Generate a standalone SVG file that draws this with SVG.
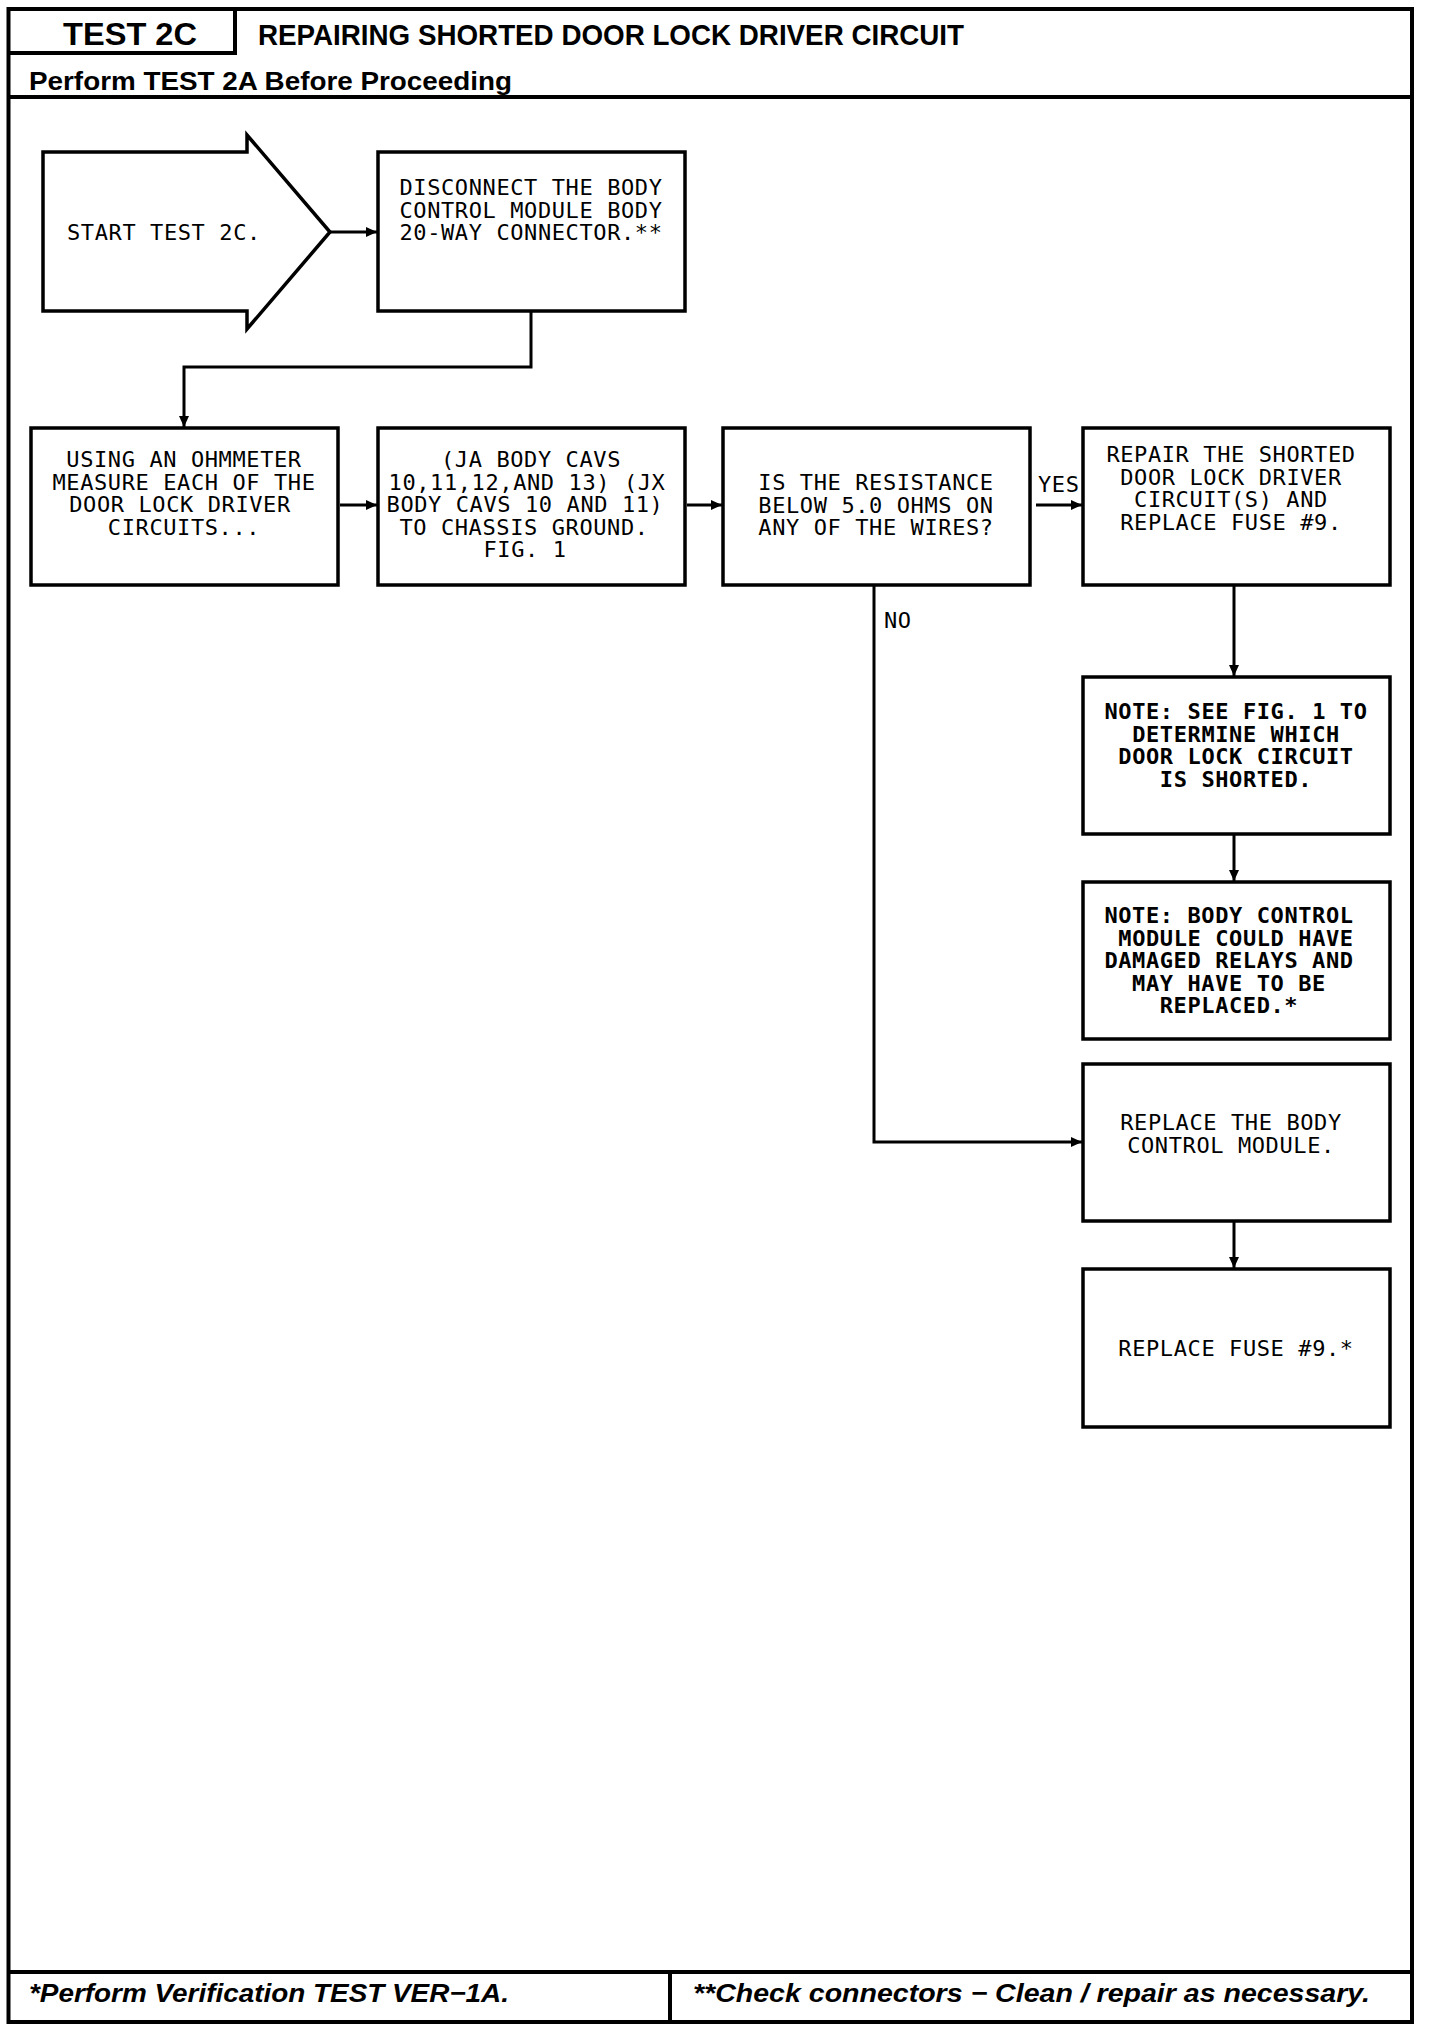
<svg xmlns="http://www.w3.org/2000/svg" width="1440" height="2032" viewBox="0 0 1440 2032">
<style>
.frame{fill:none;stroke:#000;stroke-width:4}
.box{fill:#fff;stroke:#000;stroke-width:3.5}
.con{fill:none;stroke:#000;stroke-width:3}
.t{font-family:"DejaVu Sans Mono","Liberation Mono",monospace;font-size:22px;letter-spacing:0.6px;fill:#000;text-anchor:middle}
.tl{font-family:"DejaVu Sans Mono","Liberation Mono",monospace;font-size:22px;letter-spacing:0.6px;fill:#000}
.b{font-weight:bold}
.h{font-family:"Liberation Sans",Arial,sans-serif;font-weight:bold;fill:#000}
.hi{font-family:"Liberation Sans",Arial,sans-serif;font-weight:bold;font-style:italic;fill:#000}
</style>
<defs>
<marker id="ah" markerUnits="userSpaceOnUse" markerWidth="11" markerHeight="10" refX="11" refY="5" orient="auto">
<path d="M0,0 L11,5 L0,10 z" fill="#000"/>
</marker>
</defs>
<rect width="1440" height="2032" fill="#fff"/>
<g id="frame">
<rect class="frame" x="8.5" y="9" width="1403.5" height="2013"/>
<path class="frame" d="M8.5,53 H235 V9"/>
<path class="frame" d="M8.5,97 H1412"/>
<path class="frame" d="M8.5,1972 H1412"/>
<path class="frame" d="M670,1972 V2022"/>
<text class="h" x="63" y="45" font-size="31" textLength="134" lengthAdjust="spacingAndGlyphs">TEST 2C</text>
<text class="h" x="258" y="45" font-size="30" textLength="706" lengthAdjust="spacingAndGlyphs">REPAIRING SHORTED DOOR LOCK DRIVER CIRCUIT</text>
<text class="h" x="29" y="90" font-size="26" textLength="483" lengthAdjust="spacingAndGlyphs">Perform TEST 2A Before Proceeding</text>
<text class="hi" x="29" y="2002" font-size="26" textLength="480" lengthAdjust="spacingAndGlyphs">*Perform Verification TEST VER−1A.</text>
<text class="hi" x="693" y="2002" font-size="26" textLength="677" lengthAdjust="spacingAndGlyphs">**Check connectors − Clean / repair as necessary.</text>
</g>
<g id="connectors">
<path class="con" d="M330,232 H377" marker-end="url(#ah)"/>
<path class="con" d="M531,311 V367 H184 V427" marker-end="url(#ah)"/>
<path class="con" d="M340,505 H377" marker-end="url(#ah)"/>
<path class="con" d="M687,505 H722" marker-end="url(#ah)"/>
<path class="con" d="M1036,505 H1082" marker-end="url(#ah)"/>
<path class="con" d="M874,585 V1142 H1082" marker-end="url(#ah)"/>
<path class="con" d="M1234,585 V676" marker-end="url(#ah)"/>
<path class="con" d="M1234,834 V881" marker-end="url(#ah)"/>
<path class="con" d="M1234,1221 V1268" marker-end="url(#ah)"/>
<text class="tl" x="1038" y="492">YES</text>
<text class="tl" x="884" y="628">NO</text>
</g>
<g id="start">
<polygon class="box" points="43,152 247,152 247,135 330,232 247,329 247,311 43,311"/>
<text class="tl" x="67" y="240">START TEST 2C.</text>
</g>
<g id="disconnect">
<rect class="box" x="378" y="152" width="307" height="159"/>
<text class="t" x="531" y="195">DISCONNECT THE BODY</text>
<text class="t" x="531" y="217.5">CONTROL MODULE BODY</text>
<text class="t" x="531" y="240">20-WAY CONNECTOR.**</text>
</g>
<g id="measure">
<rect class="box" x="31" y="428" width="307" height="157"/>
<text class="t" x="184" y="467">USING AN OHMMETER</text>
<text class="t" x="184" y="489.5">MEASURE EACH OF THE</text>
<text class="t" x="180" y="512">DOOR LOCK DRIVER</text>
<text class="t" x="184" y="534.5">CIRCUITS...</text>
</g>
<g id="cavities">
<rect class="box" x="378" y="428" width="307" height="157"/>
<text class="t" x="531" y="467">(JA BODY CAVS</text>
<text class="t" x="527" y="489.5">10,11,12,AND 13) (JX</text>
<text class="t" x="525" y="512">BODY CAVS 10 AND 11)</text>
<text class="t" x="524" y="534.5">TO CHASSIS GROUND.</text>
<text class="t" x="525" y="557">FIG. 1</text>
</g>
<g id="decision">
<rect class="box" x="723" y="428" width="307" height="157"/>
<text class="t" x="876" y="490">IS THE RESISTANCE</text>
<text class="t" x="876" y="512.5">BELOW 5.0 OHMS ON</text>
<text class="t" x="876" y="535">ANY OF THE WIRES?</text>
</g>
<g id="repair">
<rect class="box" x="1083" y="428" width="307" height="157"/>
<text class="t" x="1231" y="462">REPAIR THE SHORTED</text>
<text class="t" x="1231" y="484.5">DOOR LOCK DRIVER</text>
<text class="t" x="1231" y="507">CIRCUIT(S) AND</text>
<text class="t" x="1231" y="529.5">REPLACE FUSE #9.</text>
</g>
<g id="note1">
<rect class="box" x="1083" y="677" width="307" height="157"/>
<text class="t b" x="1236" y="719">NOTE: SEE FIG. 1 TO</text>
<text class="t b" x="1236" y="741.5">DETERMINE WHICH</text>
<text class="t b" x="1236" y="764">DOOR LOCK CIRCUIT</text>
<text class="t b" x="1236" y="786.5">IS SHORTED.</text>
</g>
<g id="note2">
<rect class="box" x="1083" y="882" width="307" height="157"/>
<text class="t b" x="1229" y="923">NOTE: BODY CONTROL</text>
<text class="t b" x="1236" y="945.5">MODULE COULD HAVE</text>
<text class="t b" x="1229" y="968">DAMAGED RELAYS AND</text>
<text class="t b" x="1229" y="990.5">MAY HAVE TO BE</text>
<text class="t b" x="1229" y="1013">REPLACED.*</text>
</g>
<g id="replace-bcm">
<rect class="box" x="1083" y="1064" width="307" height="157"/>
<text class="t" x="1231" y="1130">REPLACE THE BODY</text>
<text class="t" x="1231" y="1152.5">CONTROL MODULE.</text>
</g>
<g id="replace-fuse">
<rect class="box" x="1083" y="1269" width="307" height="158"/>
<text class="t" x="1236" y="1356">REPLACE FUSE #9.*</text>
</g>
</svg>
